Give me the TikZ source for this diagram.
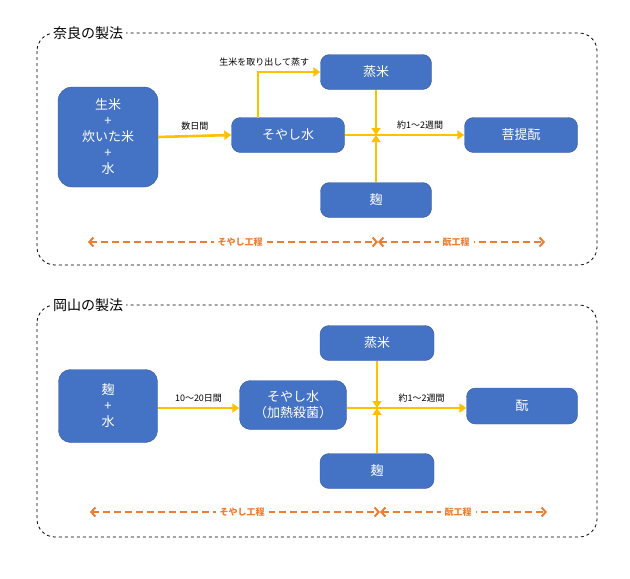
\documentclass[tikz,border=0pt]{standalone}
\usepackage{fontspec}
\setmainfont{Noto Sans CJK JP}
\usetikzlibrary{arrows.meta}
\definecolor{bx}{HTML}{4472C4}
\definecolor{yl}{HTML}{FFC000}
\definecolor{og}{HTML}{ED7D31}
\begin{document}
\begin{tikzpicture}[x=1pt,y=-1pt,
 box/.style={fill=bx,draw=bx!80!black,line width=0.4pt,rounded corners=9pt,text=white,font=\fontsize{13}{16}\selectfont,align=center,inner sep=0pt},
 fl/.style={yl,line width=2.6pt,-{Triangle[length=7pt,width=9pt]}},
 ln/.style={yl,line width=2.6pt},
 lab/.style={font=\fontsize{9}{11}\selectfont,inner sep=1pt},
 frame/.style={draw,dashed,rounded corners=18pt,line width=0.8pt},
 ttl/.style={fill=white,font=\fontsize{14}{16}\selectfont,inner sep=3pt,anchor=west},
 pr/.style={og,line width=2pt,dash pattern=on 7pt off 4pt,{Straight Barb[length=4pt,width=9pt]}-{Straight Barb[length=4pt,width=9pt]}},
 prl/.style={og,fill=white,font=\bfseries\fontsize{9}{11}\selectfont,inner sep=4pt}]
\useasboundingbox (0,0) rectangle (630,579);
% Nara
\draw[frame] (37,33) rectangle (597,265);
\node[ttl] (t1) at (50,33) {奈良の製法};
\node[box,minimum width=100pt,minimum height=100pt,rounded corners=14pt] (a1) at (108,137) {生米\\+\\炊いた米\\+\\水};
\node[box,minimum width=113pt,minimum height=35pt] (b1) at (288,135) {そやし水};
\node[box,minimum width=111pt,minimum height=35pt] (c1) at (376,72) {蒸米};
\node[box,minimum width=111pt,minimum height=35pt] (d1) at (376,200) {麹};
\node[box,minimum width=113pt,minimum height=35pt] (e1) at (521,135) {菩提酛};
\coordinate (j1) at (376,135);
\draw[fl] (a1.east) -- node[lab,above=3pt,black] {数日間} (b1.west);
\draw[fl] (258,118) -- (258,72) -- node[lab,black,above=3pt,pos=0.1] {生米を取り出して蒸す} (c1.west);
\draw[ln] (b1.east) -- (j1);
\draw[fl] (j1) -- node[lab,above=3pt,black] {約1～2週間} (e1.west);
\draw[fl] (c1.south) -- (j1);
\draw[fl] (d1.north) -- (j1);
\coordinate (p1a) at (88,242); \coordinate (p1b) at (378,242); \coordinate (p1c) at (545,242);
\draw[pr] (p1a) -- (p1b); \node[prl] (l1a) at (240,242) {そやし工程};
\draw[pr] (p1b) -- (p1c); \node[prl] (l1b) at (456,242) {酛工程};
% Okayama
\draw[frame] (37,305) rectangle (597,537);
\node[ttl] (t2) at (50,305) {岡山の製法};
\node[box,minimum width=99pt,minimum height=73pt,rounded corners=12pt] (a2) at (108,406) {麹\\+\\水};
\node[box,minimum width=107pt,minimum height=49pt,rounded corners=11pt] (b2) at (293,405) {そやし水\\（加熱殺菌）};
\node[box,minimum width=114pt,minimum height=35pt] (c2) at (377,343) {蒸米};
\node[box,minimum width=114pt,minimum height=35pt] (d2) at (377,471) {麹};
\node[box,minimum width=111pt,minimum height=36pt] (e2) at (522,406) {酛};
\coordinate (j2) at (377,408);
\draw[fl] (a2.east |- 0,408) -- node[lab,above=3pt,black] {10～20日間} (b2.west |- 0,408);
\draw[ln] (b2.east |- 0,408) -- (j2);
\draw[fl] (j2) -- node[lab,above=3pt,black] {約1～2週間} (e2.west |- 0,408);
\draw[fl] (c2.south) -- (j2);
\draw[fl] (d2.north) -- (j2);
\coordinate (p2a) at (90,512); \coordinate (p2b) at (380,512); \coordinate (p2c) at (547,512);
\draw[pr] (p2a) -- (p2b); \node[prl] (l2a) at (242,512) {そやし工程};
\draw[pr] (p2b) -- (p2c); \node[prl] (l2b) at (458,512) {酛工程};
\end{tikzpicture}
\end{document}
